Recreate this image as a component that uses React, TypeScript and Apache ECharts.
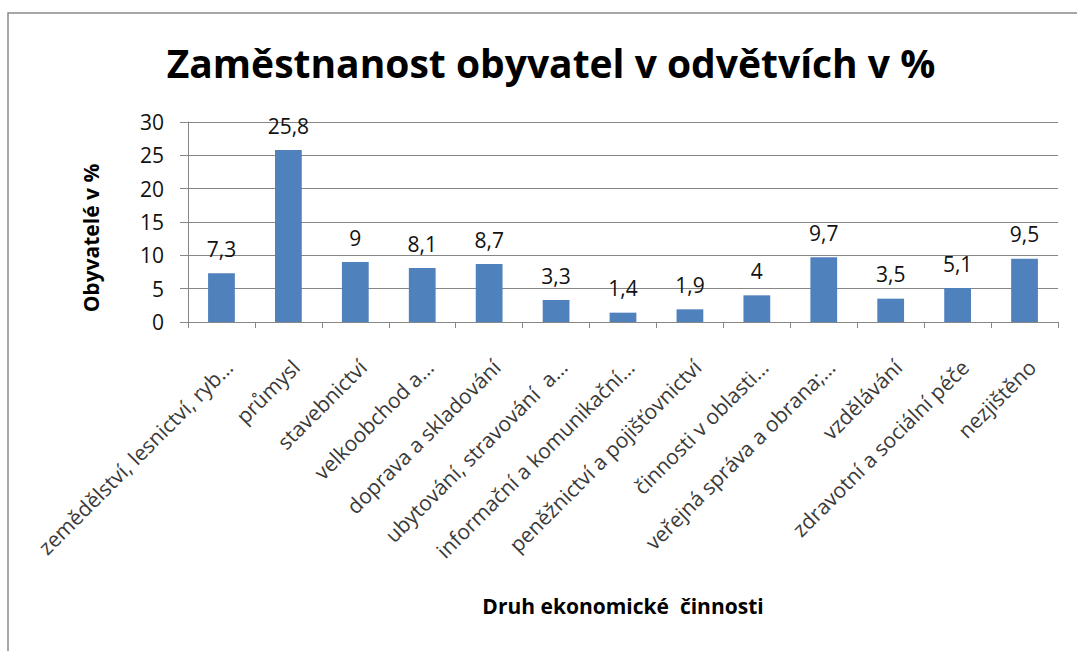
import React, { useEffect, useRef } from "react";
import * as echarts from "echarts";

const titleText = "Zaměstnanost obyvatel v odvětvích v %";
const yAxisTitle = "Obyvatelé v %";
const xAxisTitle = "Druh ekonomické  činnosti";

const categories = [
  "zemědělství, lesnictví, ryb…",
  "průmysl",
  "stavebnictví",
  "velkoobchod a…",
  "doprava a skladování",
  "ubytování, stravování  a…",
  "informační a komunikační…",
  "peněžnictví a pojišťovnictví",
  "činnosti v oblasti…",
  "veřejná správa a obrana;…",
  "vzdělávání",
  "zdravotní a sociální péče",
  "nezjištěno",
];

const values = [7.3, 25.8, 9, 8.1, 8.7, 3.3, 1.4, 1.9, 4, 9.7, 3.5, 5.1, 9.5];

const yTicks = { min: 0, max: 30, interval: 5 };

const FONT = "'Open Sans', 'Noto Sans', sans-serif";

export default function App() {
  const ref = useRef<HTMLDivElement>(null);

  useEffect(() => {
    if (!ref.current) return;
    const chart = echarts.init(ref.current, null, { renderer: "svg" });
    chart.setOption({
      animation: false,
      backgroundColor: "#ffffff",
      textStyle: { fontFamily: FONT },
      title: {
        text: titleText,
        left: 546,
        top: 38,
        textAlign: "center",
        textStyle: {
          fontFamily: FONT,
          fontSize: 39,
          fontWeight: "bold",
          color: "#000000",
        },
      },
      grid: { left: 188, right: 19, top: 122, bottom: 329, containLabel: false },
      xAxis: {
        type: "category",
        data: categories,
        boundaryGap: true,
        axisLine: { show: true, lineStyle: { color: "#868686", width: 1 } },
        axisTick: { show: true, length: 6, alignWithLabel: false, lineStyle: { color: "#868686" } },
        axisLabel: {
          interval: 0,
          rotate: 45,
          align: "right",
          verticalAlign: "top",
          margin: 34,
          fontFamily: FONT,
          fontSize: 21,
          color: "#3a3a3a",
        },
      },
      yAxis: {
        type: "value",
        min: yTicks.min,
        max: yTicks.max,
        interval: yTicks.interval,
        axisLine: { show: true, lineStyle: { color: "#868686", width: 1 } },
        axisTick: { show: true, length: 8, lineStyle: { color: "#868686" } },
        splitLine: { show: true, lineStyle: { color: "#868686", width: 1 } },
        axisLabel: {
          margin: 24,
          fontFamily: FONT,
          fontSize: 21,
          color: "#111111",
        },
      },
      series: [
        {
          type: "bar",
          data: values,
          barWidth: "40%",
          itemStyle: { color: "#4F81BD" },
          label: {
            show: true,
            position: "top",
            distance: 14,
            fontFamily: FONT,
            fontSize: 21,
            color: "#111111",
            formatter: (p: any) => String(p.value).replace(".", ","),
          },
        },
      ],
      graphic: [
        {
          type: "rect",
          shape: { x: 8, y: 13, width: 1200, height: 800 },
          style: { fill: "none", stroke: "#8a8a8a", lineWidth: 1.5 },
          silent: true,
        },
        {
          type: "text",
          x: 91,
          y: 238,
          rotation: Math.PI / 2,
          style: {
            text: yAxisTitle,
            fontFamily: FONT,
            fontSize: 21,
            fontWeight: "bold",
            fill: "#000000",
            textAlign: "center",
            textVerticalAlign: "middle",
          },
        },
        {
          type: "text",
          x: 623,
          y: 606,
          style: {
            text: xAxisTitle,
            fontFamily: FONT,
            fontSize: 21,
            fontWeight: "bold",
            fill: "#000000",
            textAlign: "center",
            textVerticalAlign: "middle",
          },
        },
      ],
    });
    return () => chart.dispose();
  }, []);

  return (
    <div
      ref={ref}
      style={{ position: "absolute", left: 0, top: 0, width: 1077, height: 651 }}
    />
  );
}
